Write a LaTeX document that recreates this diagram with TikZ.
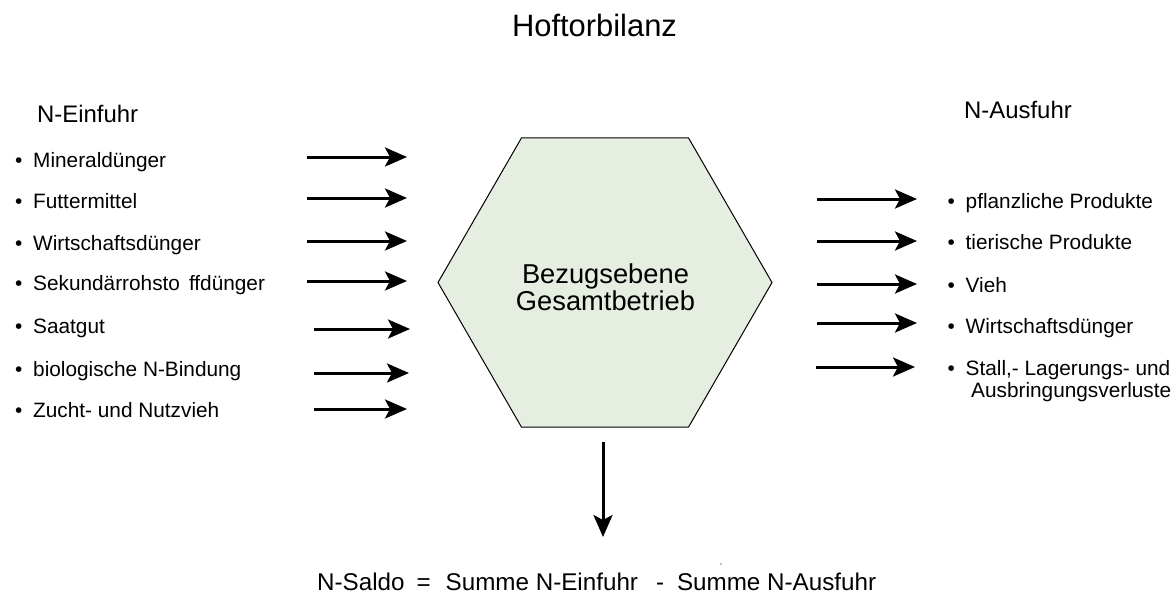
\documentclass[tikz,border=0pt]{standalone}
\usepackage{fontspec}
\setmainfont{Liberation Sans}
\usetikzlibrary{arrows.meta,shapes.geometric}

\definecolor{hexfill}{RGB}{230,237,225}
\newcommand{\itm}[1]{\makebox[18pt][l]{\textbullet}#1}

\tikzset{
  x=1pt, y=-1pt,
  txt/.style={inner sep=0pt, anchor=base west, font=\fontsize{20.8}{22}\selectfont},
  head/.style={inner sep=0pt, anchor=base west, font=\fontsize{23.9}{26}\selectfont},
  flow/.style={line width=3pt, -{Stealth[length=22pt,width=19pt,inset=5pt]}},
  hexbox/.style={regular polygon, regular polygon sides=6, minimum size=334pt,
                 inner sep=0pt, outer sep=0pt, draw=black, line width=1pt, fill=hexfill},
}

\begin{document}
\begin{tikzpicture}
\useasboundingbox (0,0) rectangle (1176,594);

% title
\node[inner sep=0pt, anchor=base, font=\fontsize{30.9}{32}\selectfont] (title) at (594.5,37) {Hoftorbilanz};

% central farm node
\node[hexbox] (hex) at (605,282.5) {};
\node[inner sep=0pt, align=center, font=\fontsize{27.3}{27.5}\selectfont] (hextext) at (605.5,287) {Bezugsebene\\Gesamtbetrieb};

% inputs
\node[head] (inhead) at (37,122) {N-Einfuhr};
\node[txt] (i1) at (15,167) {\itm{Mineraldünger}};
\node[txt] (i2) at (15,208) {\itm{Futtermittel}};
\node[txt] (i3) at (15,250) {\itm{Wirtschaftsdünger}};
\node[txt] (i4) at (15,290) {\itm{Sekundärrohsto\hspace{9pt}ffdünger}};
\node[txt] (i5) at (15,333) {\itm{Saatgut}};
\node[txt] (i6) at (15,376) {\itm{biologische N-Bindung}};
\node[txt] (i7) at (15,417) {\itm{Zucht- und Nutzvieh}};

\foreach \n/\xa/\xb/\y in {1/307/407/157, 2/307/407/198, 3/307/407/241, 4/307/407/281,
                           5/314/410/329, 6/314/409/373, 7/314/407/409} {
  \coordinate (ls\n) at (\xa,\y);
  \coordinate (le\n) at (\xb,\y);
  \draw[flow] (ls\n) -- (le\n);
}

% outputs
\node[head] (outhead) at (964,118) {N-Ausfuhr};
\node[txt] (o1) at (947.5,208) {\itm{pflanzliche Produkte}};
\node[txt] (o2) at (947.5,249) {\itm{tierische Produkte}};
\node[txt] (o3) at (947.5,292) {\itm{Vieh}};
\node[txt] (o4) at (947.5,333) {\itm{Wirtschaftsdünger}};
\node[txt] (o5) at (947.5,375) {\itm{Stall,- Lagerungs- und}};
\node[txt] (o5b) at (971,397) {Ausbringungsverluste};

\foreach \n/\xa/\xb/\y in {1/817/917/199, 2/817/917/241, 3/817/917/284, 4/817/917/323, 5/816/915/367} {
  \coordinate (rs\n) at (\xa,\y);
  \coordinate (re\n) at (\xb,\y);
  \draw[flow] (rs\n) -- (re\n);
}

% balance
\coordinate (ds) at (603,442);
\coordinate (de) at (603,537);
\draw[flow] (ds) -- (de);
\fill[gray] (721,564) circle (0.8);
\node[inner sep=0pt, anchor=base west, font=\fontsize{24.2}{26}\selectfont] (saldo) at (317,590)
  {N-Saldo\hspace{12pt}=\hspace{15pt}Summe N-Einfuhr\hspace{18pt}-\hspace{13pt}Summe N-Ausfuhr};
\end{tikzpicture}
\end{document}
